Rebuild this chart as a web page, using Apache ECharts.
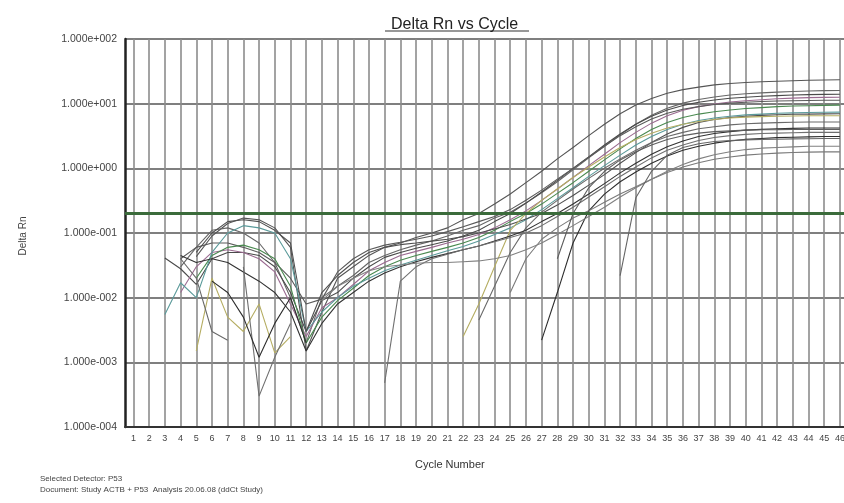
<!DOCTYPE html>
<html>
<head>
<meta charset="utf-8">
<script src="https://cdn.jsdelivr.net/npm/echarts@6/dist/echarts.min.js"></script>
<style>
  html, body { margin: 0; padding: 0; background: #fff; }
  #chart { width: 844px; height: 503px; }
</style>
</head>
<body>
<div id="chart"></div>
<script>
// gaps in a trace (no positive Delta Rn) are null
const _ = null

const cycles = [1, 2, 3, 4, 5, 6, 7, 8, 9, 10, 11, 12, 13, 14, 15, 16, 17, 18, 19, 20,
  21, 22, 23, 24, 25, 26, 27, 28, 29, 30, 31, 32, 33, 34, 35, 36, 37, 38, 39, 40,
  41, 42, 43, 44, 45, 46]

const yTickLabels = ['1.000e-004', '1.000e-003', '1.000e-002', '1.000e-001', '1.000e+000', '1.000e+001', '1.000e+002']

const threshold = 0.2

// one array per well, cycles 1..46
const wellA = [_, _, _, _, .043, .09, .14, .17, .16, .12,
  .06, .0015, .006, .02, .03, .045, .06, .07, .085, .1,
  .12, .16, .2, .28, .4, .6, .9, 1.4, 2.1, 3.2,
  4.8, 7, 9.5, 12, 14.5, 16.5, 18, 19.5, 20.5, 21.2,
  21.8, 22.2, 22.6, 23, 23.2, 23.4]
const wellB = [_, _, _, .03, .06, .11, .12, .1, .07, .035,
  .01, .002, .01, .015, .022, .035, .045, .055, .065, .075,
  .09, .11, .13, .17, .21, .29, .42, .62, .95, 1.45,
  2.2, 3.3, 4.8, 6.6, 8.5, 10.2, 11.6, 12.7, 13.6, 14.2,
  14.7, 15.1, 15.4, 15.7, 15.9, 16]
const wellC = [_, _, .041, .028, .016, .04, .05, .05, .045, .03,
  .012, .003, .009, .012, .02, .03, .042, .05, .058, .066,
  .075, .09, .11, .15, .2, .29, .43, .65, 1.0, 1.5,
  2.3, 3.4, 4.8, 6.4, 8, 9.4, 10.5, 11.4, 12.1, 12.6,
  13, 13.3, 13.6, 13.8, 13.9, 14]
const wellD = [_, _, _, .012, .03, .05, .055, .05, .04, .025,
  .008, .0025, .007, .01, .016, .026, .035, .045, .052, .06,
  .07, .08, .095, .12, .16, .22, .32, .48, .72, 1.1,
  1.65, 2.5, 3.6, 5, 6.5, 7.9, 9, 9.9, 10.6, 11.1,
  11.5, 11.9, 12.2, 12.4, 12.5, 12.6]
const wellE = [_, _, _, .04, .06, .07, .07, .06, .05, .035,
  .02, .008, .0095, .025, .04, .055, .065, .072, .08, .09,
  .105, .125, .15, .18, .23, .32, .46, .68, 1.0, 1.5,
  2.2, 3.2, 4.4, 5.8, 7.1, 8.2, 9, 9.7, 10.2, 10.5,
  10.8, 11, 11.1, 11.2, 11.3, 11.3]
const wellF = [_, _, _, _, .02, .045, .06, .065, .055, .04,
  .015, .002, .005, .009, .014, .022, .03, .038, .045, .052,
  .06, .07, .085, .11, .15, .2, .28, .41, .6, .9,
  1.35, 2, 2.9, 4, 5.1, 6.1, 6.9, 7.5, 8, 8.4,
  8.7, 9, 9.2, 9.3, 9.4, 9.5]
const wellG = [_, _, .0055, .017, .01, .05, .1, .13, .12, .1,
  .04, .003, .006, .01, .015, .02, .026, .032, .038, .045,
  .053, .062, .075, .095, .12, .16, .23, .34, .5, .75,
  1.1, 1.6, 2.3, 3.1, 4, 4.8, 5.5, 6, 6.4, 6.7,
  6.9, 7.1, 7.2, 7.3, 7.35, 7.4]
const wellH = [_, _, _, _, .05, .1, .15, .16, .15, .11,
  .07, .003, .012, .022, .035, .05, .06, .066, .07, .075,
  .08, .088, .1, .115, .135, .165, .2, .27, .38, .55,
  .8, 1.2, 1.75, 2.5, 3.4, 4.3, 5.1, 5.7, 6.1, 6.4,
  6.6, 6.75, 6.85, 6.9, 6.95, 7]
const wellI = [_, _, _, _, .0015, .02, .005, .003, .008, .0014,
  .0025, _, _, _, _, _, _, _, _, _,
  _, .0025, .008, .03, .11, .2, .32, .48, .72, 1.05,
  1.5, 2.1, 2.8, 3.5, 4.2, 4.8, 5.3, 5.7, 6, 6.2,
  6.3, 6.4, 6.45, 6.5, 6.5, 6.5]
const wellJ = [_, _, _, .04, .02, .003, .0022, _, _, _,
  _, _, _, _, _, _, _, _, _, _,
  _, _, .0045, .015, .05, .12, .21, .32, .48, .7,
  1.0, 1.4, 1.9, 2.5, 3.1, 3.6, 4.1, 4.4, 4.7, 4.9,
  5, 5.1, 5.15, 5.2, 5.2, 5.2]
const wellK = [_, _, _, .045, .035, .04, .035, .025, .018, .012,
  .006, .0015, .004, .008, .012, .018, .024, .03, .036, .042,
  .048, .055, .063, .075, .09, .11, .15, .2, .28, .4,
  .58, .85, 1.2, 1.65, 2.15, 2.65, 3.1, 3.45, 3.7, 3.9,
  4.0, 4.1, 4.15, 4.2, 4.2, 4.2]
const wellL = [_, _, _, _, _, _, _, .03, .0003, .0012,
  .004, _, _, _, _, _, .00048, .018, .03, .04,
  .047, .055, .063, .073, .085, .1, .13, .18, .25, .36,
  .52, .75, 1.05, 1.45, 1.9, 2.3, 2.7, 3, 3.2, 3.35,
  3.45, 3.5, 3.55, 3.6, 3.6, 3.6]
const wellM = [_, _, _, _, _, .018, .012, .005, .0012, .004,
  .01, .002, _, _, _, _, _, _, _, _,
  _, _, _, _, _, _, .0022, .012, .07, .22,
  .4, .62, .88, 1.2, 1.55, 1.9, 2.2, 2.45, 2.65, 2.8,
  2.9, 2.98, 3.03, 3.07, 3.1, 3.1]
const wellN = [_, _, _, _, _, _, _, _, _, _,
  _, _, _, _, _, _, _, _, _, _,
  _, _, _, _, .012, .04, .08, .12, .17, .22,
  .3, .4, .52, .68, .86, 1.05, 1.22, 1.38, 1.5, 1.6,
  1.67, 1.72, 1.76, 1.78, 1.8, 1.8]
const wellO = [_, _, _, _, _, _, _, _, _, _,
  _, _, .009, .015, .02, .026, .03, .032, .034, .035,
  .035, .036, .037, .04, .045, .055, .07, .095, .13, .18,
  .25, .36, .5, .68, .9, 1.15, 1.4, 1.62, 1.8, 1.95,
  2.05, 2.1, 2.15, 2.2, 2.2, 2.2]
const wellP = [_, _, _, _, _, _, _, _, _, _,
  _, _, _, _, _, _, _, _, _, _,
  _, _, _, _, _, _, _, _, _, _,
  _, .022, .35, .9, 1.6, 2.1, 2.4, 2.6, 2.7, 2.75,
  2.8, 2.82, 2.85, 2.87, 2.9, 2.9]
const wellQ = [_, _, _, _, _, _, _, _, _, _,
  _, _, _, _, _, _, _, _, _, _,
  _, _, _, _, _, _, _, .04, .2, .5,
  .9, 1.35, 1.8, 2.3, 2.8, 3.2, 3.5, 3.7, 3.8, 3.9,
  3.95, 3.97, 4, 4, 4, 4]

const wells = [
  { name: 'A', data: wellA, color: '#555555' },
  { name: 'B', data: wellB, color: '#666666' },
  { name: 'C', data: wellC, color: '#4a4a4a' },
  { name: 'D', data: wellD, color: '#9a6a90' },
  { name: 'E', data: wellE, color: '#5a5a5a' },
  { name: 'F', data: wellF, color: '#4a8a50' },
  { name: 'G', data: wellG, color: '#5a9a9a' },
  { name: 'H', data: wellH, color: '#505050' },
  { name: 'I', data: wellI, color: '#b5ad62' },
  { name: 'J', data: wellJ, color: '#6a6a6a' },
  { name: 'K', data: wellK, color: '#333333' },
  { name: 'L', data: wellL, color: '#707070' },
  { name: 'M', data: wellM, color: '#2e2e2e' },
  { name: 'N', data: wellN, color: '#7a7a7a' },
  { name: 'O', data: wellO, color: '#808080' },
  { name: 'P', data: wellP, color: '#666666' },
  { name: 'Q', data: wellQ, color: '#5e5e5e' }
]

const chart = echarts.init(document.getElementById('chart'), null, { renderer: 'canvas' })

const series = wells.map((w) => ({
  name: w.name,
  type: 'line',
  data: cycles.map((c, i) => [c, w.data[i] === null ? '-' : w.data[i]]),
  showSymbol: false,
  connectNulls: false,
  lineStyle: { width: 1.1, color: w.color },
  itemStyle: { color: w.color },
  silent: true
}))

// threshold line
series[0].markLine = {
  silent: true,
  animation: false,
  symbol: ['none', 'none'],
  label: { show: false },
  lineStyle: { color: '#3b6b3b', width: 3, type: 'solid' },
  data: [{ yAxis: threshold }]
}

const option = {
  backgroundColor: '#ffffff',
  animation: false,
  textStyle: { fontFamily: 'Arial, "Liberation Sans", sans-serif' },
  title: {
    text: 'Delta Rn vs Cycle',
    left: 386,
    top: 12,
    textStyle: { fontSize: 16, fontWeight: 'normal', color: '#222' }
  },
  grid: {
    left: 125,
    right: 0,
    top: 39,
    bottom: 76,
    containLabel: false,
    outerBoundsMode: 'none'
  },
  xAxis: {
    type: 'value',
    min: 0.46,
    max: 46.26,
    axisLine: { show: true, onZero: false, lineStyle: { color: '#333', width: 2 } },
    axisTick: { show: false, customValues: cycles },
    axisLabel: {
      customValues: cycles,
      color: '#444',
      fontSize: 9,
      margin: 7,
      hideOverlap: false
    },
    splitLine: { show: true, lineStyle: { color: '#8c8c8c', width: 1.6 } }
  },
  yAxis: {
    type: 'log',
    logBase: 10,
    min: 0.0001,
    max: 100,
    axisLine: { show: true, lineStyle: { color: '#222', width: 2.5 } },
    axisTick: { show: false },
    axisLabel: {
      color: '#444',
      fontSize: 10.5,
      margin: 8,
      formatter: (v) => yTickLabels[Math.round(Math.log10(v)) + 4]
    },
    splitLine: { show: true, lineStyle: { color: '#555', width: 1.5 } }
  },
  graphic: [
    { type: 'line', shape: { x1: 385, y1: 31, x2: 529, y2: 31 }, style: { stroke: '#333', lineWidth: 1.2 } },
    {
      type: 'text', x: 23, y: 236, rotation: Math.PI / 2,
      style: { text: 'Delta Rn', fontSize: 10, fill: '#444', align: 'center', verticalAlign: 'middle', fontFamily: 'Arial' }
    },
    {
      type: 'text', left: 415, top: 459,
      style: { text: 'Cycle Number', fontSize: 11, fill: '#333', fontFamily: 'Arial' }
    },
    {
      type: 'text', left: 40, top: 475,
      style: { text: 'Selected Detector: P53', fontSize: 8, fill: '#444', fontFamily: 'Arial' }
    },
    {
      type: 'text', left: 40, top: 486,
      style: { text: 'Document: Study ACTB + P53  Analysis 20.06.08 (ddCt Study)', fontSize: 8, fill: '#444', fontFamily: 'Arial' }
    }
  ],
  series
}

chart.setOption(option)
window.addEventListener('resize', () => chart.resize())
</script>
</body>
</html>
